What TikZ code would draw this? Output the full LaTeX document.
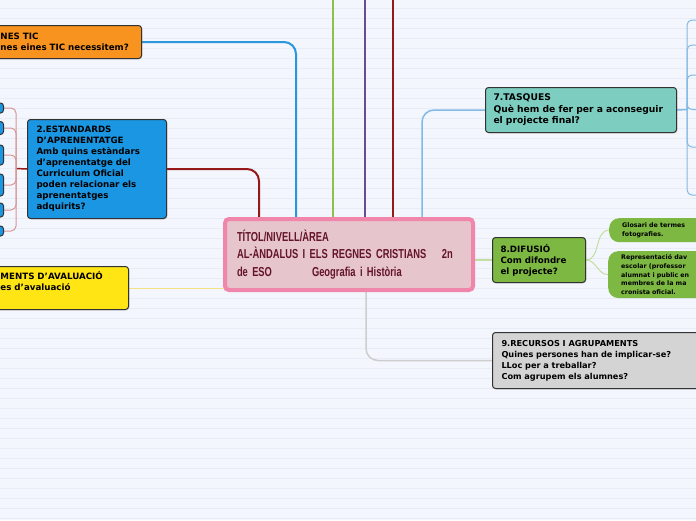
\documentclass[tikz,border=0pt]{standalone}
\usepackage{fontspec}
\setmainfont{DejaVu Sans}
\newfontfamily\titolfont[FakeStretch=0.72]{Liberation Sans}
\usetikzlibrary{shadows}
\definecolor{fons}{RGB}{243, 246, 253}
\definecolor{ratlla}{RGB}{232, 236, 247}
\definecolor{taronja}{RGB}{247, 147, 30}
\definecolor{blau}{RGB}{27, 150, 226}
\definecolor{groc}{RGB}{255, 229, 20}
\definecolor{turquesa}{RGB}{125, 206, 193}
\definecolor{verd}{RGB}{125, 184, 67}
\definecolor{gris}{RGB}{212, 212, 212}
\definecolor{rosa}{RGB}{230, 197, 204}
\definecolor{rosafort}{RGB}{240, 135, 170}
\definecolor{granat}{RGB}{100, 20, 40}
\definecolor{vora}{RGB}{50, 50, 50}
\definecolor{blaucon}{RGB}{42, 150, 220}
\definecolor{verdcon}{RGB}{139, 195, 74}
\definecolor{lila}{RGB}{106, 76, 147}
\definecolor{vermell}{RGB}{150, 25, 25}
\definecolor{blauclar}{RGB}{130, 185, 230}
\definecolor{griscon}{RGB}{205, 205, 205}
\definecolor{verdclar}{RGB}{195, 222, 160}
\definecolor{grocclar}{RGB}{245, 225, 130}
\definecolor{rosat}{RGB}{215, 150, 150}
\pgfdeclarelayer{bg}
\pgfsetlayers{bg,main}
\tikzset{
  titolbox/.style={draw=rosafort, fill=rosa, line width=4pt, rounded corners=4pt,
    align=left, text=granat, font=\titolfont\bfseries\fontsize{13}{17.5}\selectfont},
  tema/.style={draw=vora, line width=1pt, rounded corners=3pt, align=left, anchor=north west,
    font=\bfseries\fontsize{8.7}{11}\selectfont,
    drop shadow={shadow xshift=0.8pt, shadow yshift=-0.8pt, opacity=0.35}},
  subtema/.style={fill=verd, rounded corners=10pt, align=left, anchor=north west,
    text width=100pt, inner xsep=13pt, font=\bfseries\fontsize{6.3}{8.75}\selectfont},
  fulla/.style={draw=vora, fill=blau, line width=1pt, rounded corners=3pt, minimum width=20pt, anchor=east},
  enllac/.style={line width=2pt, rounded corners=12pt},
  branca/.style={line width=1pt, rounded corners=5pt}
}
\begin{document}
\begin{tikzpicture}[x=1pt, y=-1pt]
    \useasboundingbox (0,0) rectangle (696,520);
    \clip (0,0) rectangle (696,520);
    \begin{pgfonlayer}{bg}
        \fill[fons] (0,0) rectangle (696,520);
        \foreach \y in {8,18,...,518}
            \draw[ratlla, line width=0.8pt] (0,\y) -- (696,\y);
    \end{pgfonlayer}

    % tema central
    \node[titolbox, minimum width=248pt, minimum height=71pt, text width=224pt, inner xsep=12pt] (titol) at (349,254.5)
        {TÍTOL/NIVELL/ÀREA\\\makebox[205pt][l]{AL-ÀNDALUS I ELS REGNES CRISTIANS}2n\\\makebox[75pt][l]{de ESO}Geografia i Història};

    % temes principals
    \node[tema, fill=taronja,  text width=133pt, inner xsep=8pt, minimum height=33pt] (eines)  at (-8,25)
        {NES TIC\\nes eines TIC necessitem?};
    \node[tema, fill=blau,     text width=121pt, inner xsep=9pt, minimum height=99pt] (estand) at (27,119)
        {2.ESTANDARDS\\D'APRENENTATGE\\Amb quins estàndars\\d'aprenentatge del\\Curriculum Oficial\\poden relacionar els\\aprenentatges\\adquirits?\\[-4pt]};
    \node[tema, fill=groc,     text width=120pt, inner xsep=8pt, minimum height=43pt] (aval)   at (-8,266)
        {MENTS D'AVALUACIÓ\\es d'avaluació\\\strut};
    \node[tema, fill=turquesa, text width=175pt, inner xsep=8pt, minimum height=45pt,
          font=\bfseries\fontsize{9.2}{11.5}\selectfont] (tasq) at (485,87)
        {7.TASQUES\\Què hem de fer per a aconseguir\\el projecte final?};
    \node[tema, fill=verd,     text width=77pt,  inner xsep=8pt, minimum height=45pt] (difu)   at (492,237)
        {8.DIFUSIÓ\\Com difondre\\el projecte?};
    \node[tema, fill=gris,     text width=200pt, inner xsep=9pt, minimum height=56pt,
          font=\bfseries\fontsize{8.2}{11}\selectfont] (recur) at (492,332)
        {9.RECURSOS I AGRUPAMENTS\\Quines persones han de implicar-se?\\LLoc per a treballar?\\Com agrupem els alumnes?};

    % subtemes
    \node[subtema, minimum height=24pt] (glosari) at (609,218) {Glosari de termes\\fotografies.};
    \node[subtema, minimum height=46pt] (repre)   at (608,251)
        {Representació dav\\escolar (professor\\alumnat i public en\\membres de la ma\\cronista oficial.};
    \foreach \nom/\y/\h in {f1/108/10, f2/128/13, f3/155/20, f4/185/22, f5/210/14, f6/231/10}
        \node[fulla, minimum height=\h pt] (\nom) at (4,\y) {};

    % enllacos
    \coordinate (dalt1) at (333,-5);
    \coordinate (dalt2) at (365,-5);
    \coordinate (dalt3) at (393,-5);
    \coordinate (nucli) at (16,168.5);
    \coordinate (eix)   at (687,109.5);
    \begin{pgfonlayer}{bg}
        \draw[enllac, blaucon]  (eines.east)  -| ([xshift=73pt]titol.north west);
        \draw[enllac, vermell]  (estand.east) -| ([xshift=36pt]titol.north west);
        \draw[enllac, verdcon]  (dalt1) -- (dalt1 |- titol.north);
        \draw[enllac, lila]     (dalt2) -- (dalt2 |- titol.north);
        \draw[enllac, vermell]  (dalt3) -- (dalt3 |- titol.north);
        \draw[enllac, blauclar, line width=1.5pt] (tasq.west)  -| ([xshift=199pt]titol.north west);
        \draw[enllac, griscon,  line width=1.5pt] (recur.west) -| ([xshift=143pt]titol.south west);
        \draw[verdclar, line width=1.5pt] (difu.west) -- (difu.west -| titol.east);
        \draw[grocclar, line width=1pt]   (aval.east) -- (aval.east -| titol.west);
        \draw[vermell, line width=1.5pt]  (estand.west) -- (nucli);
        \foreach \nom in {f1,f2,f3,f4,f5,f6}
            \draw[branca, rosat] (nucli) |- (\nom.east);
        \draw[blauclar, line width=1.5pt] (tasq.east) -- (eix);
        \foreach \y [count=\i] in {20,45,75,109.5,147,195} {
            \coordinate (t\i) at (700,\y);
            \draw[branca, blauclar] (eix) |- (t\i);
        }
        \draw[verdclar, line width=1pt] (difu.east) to[out=0, in=180] (glosari.west);
        \draw[verdclar, line width=1pt] (difu.east) to[out=0, in=180] (repre.west);
    \end{pgfonlayer}
\end{tikzpicture}
\end{document}
